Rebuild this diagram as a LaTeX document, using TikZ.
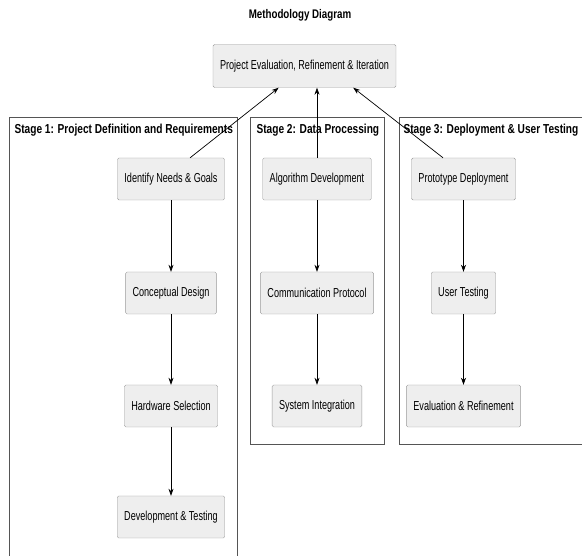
\documentclass[tikz,border=0pt]{standalone}
\usepackage{fontspec}
\setmainfont{Liberation Sans}[FakeStretch=0.7]
\newfontfamily\labelfont{Liberation Sans}[FakeStretch=0.78]
\usepackage{tikz}
\usetikzlibrary{arrows.meta}

\definecolor{boxfill}{HTML}{EEEEEE}
\definecolor{boxline}{HTML}{999999}
\definecolor{stageline}{HTML}{555555}

\begin{document}
\begin{tikzpicture}[x=1pt,y=-1pt,
    step box/.style={draw=boxline, fill=boxfill, rounded corners=1.5pt,
        minimum height=42pt, inner xsep=7pt, font=\fontsize{13}{15}\selectfont},
    stage/.style={draw=stageline, line width=0.8pt},
    stage label/.style={anchor=west, font=\labelfont\bfseries\fontsize{13}{15}\selectfont},
    arr/.style={-{Stealth[length=7pt,width=5pt]}, line width=0.7pt}]
    \useasboundingbox (0,0) rectangle (582,556);

    % title
    \node[font=\labelfont\bfseries\fontsize{12.5}{14}\selectfont] (title) at (300,15) {Methodology Diagram};

    % stages
    \draw[stage] (9,560) -- (9,117) -- (237,117) -- (237,560);
    \draw[stage] (250,117) rectangle (384,444);
    \draw[stage] (399,117) rectangle (585,444);
    \node[stage label] (l1) at (11,130) {Stage 1: Project Definition and Requirements};
    \node[stage label] (l2) at (253,130) {Stage 2: Data Processing};
    \node[stage label] (l3) at (400,130) {Stage 3: Deployment \& User Testing};

    \node[step box, minimum width=161pt, minimum height=43pt] (eval) at (304.5,66) {Project Evaluation, Refinement \& Iteration};

    \node[step box] (needs) at (171,179) {Identify Needs \& Goals};
    \node[step box] (concept) at (171,293) {Conceptual Design};
    \node[step box] (hw) at (171,406) {Hardware Selection};
    \node[step box] (devtest) at (171,517) {Development \& Testing};

    \node[step box] (algo) at (317,179) {Algorithm Development};
    \node[step box] (comm) at (317,293) {Communication Protocol};
    \node[step box] (sysint) at (317,406) {System Integration};

    \node[step box] (proto) at (463.5,179) {Prototype Deployment};
    \node[step box] (user) at (463.5,293) {User Testing};
    \node[step box] (evref) at (463.5,406) {Evaluation \& Refinement};

    % flow inside stages
    \draw[arr] (needs) -- (concept);
    \draw[arr] (concept) -- (hw);
    \draw[arr] (hw) -- (devtest);
    \draw[arr] (algo) -- (comm);
    \draw[arr] (comm) -- (sysint);
    \draw[arr] (proto) -- (user);
    \draw[arr] (user) -- (evref);

    % feedback to evaluation
    \draw[arr] (needs.48) -- (eval.220);
    \draw[arr] (algo.north) -- (algo.north |- eval.south);
    \draw[arr] (proto.134) -- (eval.336);
\end{tikzpicture}
\end{document}
